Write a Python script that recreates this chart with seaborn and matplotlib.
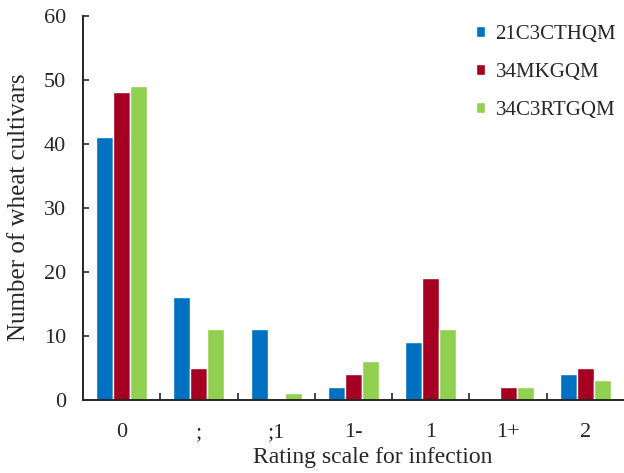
import pandas as pd
import matplotlib.pyplot as plt
import seaborn as sns
from matplotlib.ticker import FixedLocator

# Rating scale categories and number of cultivars per race
categories = ["0", ";", ";1", "1-", "1", "1+", "2"]
races = ["21C3CTHQM", "34MKGQM", "34C3RTGQM"]
counts_21C3CTHQM = [41, 16, 11, 2, 9, 0, 4]
counts_34MKGQM = [48, 5, 0, 4, 19, 2, 5]
counts_34C3RTGQM = [49, 11, 1, 6, 11, 2, 3]

colors = ["#0070C0", "#A50021", "#92D050"]

rows = []
for race, vals in zip(races, [counts_21C3CTHQM, counts_34MKGQM, counts_34C3RTGQM]):
    for cat, v in zip(categories, vals):
        rows.append({"Rating": cat, "Race": race, "Count": v})
df = pd.DataFrame(rows)

sns.set_style("ticks")
plt.rcParams["font.family"] = ["Liberation Serif", "DejaVu Serif"]

fig, ax = plt.subplots(figsize=(6.24, 4.73), dpi=100)
fig.subplots_adjust(left=0.133, right=1.0, top=0.967, bottom=0.155)

sns.barplot(data=df, x="Rating", y="Count", hue="Race", order=categories,
            hue_order=races, palette=colors, width=0.66, saturation=1,
            ax=ax, zorder=2)

ax.set_xlim(-0.5, 6.5)
ax.set_ylim(0, 60)
ax.set_yticks(range(0, 61, 10))
ax.tick_params(axis="y", direction="in", length=4, width=1.2, labelsize=16, pad=12)
ax.tick_params(axis="x", which="major", length=0, labelsize=16, pad=17)
ax.xaxis.set_minor_locator(FixedLocator([i + 0.5 for i in range(6)]))
ax.tick_params(axis="x", which="minor", direction="in", length=5, width=1.2)

for side in ["top", "right"]:
    ax.spines[side].set_visible(False)
for side in ["left", "bottom"]:
    ax.spines[side].set_linewidth(1.4)

ax.set_xlabel("Rating scale for infection", fontsize=17)
ax.xaxis.set_label_coords(0.536, -0.122)
ax.set_ylabel("Number of wheat cultivars", fontsize=18, labelpad=10)

ax.legend(loc="upper right", frameon=False, fontsize=15, handlelength=0.45,
          handleheight=0.45, handletextpad=0.5, labelspacing=0.92,
          bbox_to_anchor=(1.02, 1.025))

fig.savefig("out.png", dpi=100)
